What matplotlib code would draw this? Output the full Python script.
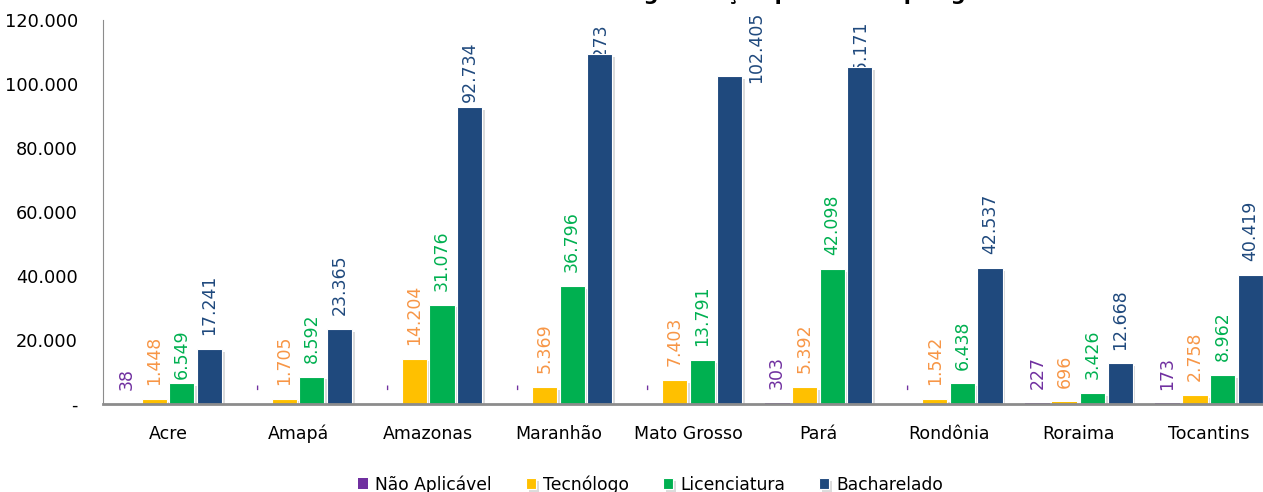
import numpy as np
import matplotlib
matplotlib.use("Agg")
import matplotlib.pyplot as plt
from matplotlib import patheffects as pe

# dados
estados = ["Acre", "Amapá", "Amazonas", "Maranhão", "Mato Grosso", "Pará",
           "Rondônia", "Roraima", "Tocantins"]
nao_aplicavel = [38, 0, 0, 0, 0, 303, 0, 227, 173]
tecnologo = [1448, 1705, 14204, 5369, 7403, 5392, 1542, 696, 2758]
licenciatura = [6549, 8592, 31076, 36796, 13791, 42098, 6438, 3426, 8962]
bacharelado = [17241, 23365, 92734, 109273, 102405, 105171, 42537, 12668, 40419]
series = ["Não Aplicável", "Tecnólogo", "Licenciatura", "Bacharelado"]
yticks = [0, 20000, 40000, 60000, 80000, 100000, 120000]

cores_barra = ["#7030A0", "#FFC000", "#00B050", "#1F497D"]
cores_rotulo = ["#7030A0", "#F79646", "#00B050", "#1F497D"]

# rotulos deslocados a mao no original (serie, estado): (dx, dy) em pontos
ajuste = {(2, 0): (0, 3), (3, 2): (0, 4), (3, 3): (0, -29), (3, 5): (0, -18), (3, 4): (19, -4.5)}

plt.rcParams['font.family'] = ['DejaVu Sans']


def fmt(v):
    # formato contabil: ponto de milhar, zero vira "-"
    if v == 0:
        return "-"
    return f"{v:,}".replace(",", ".")


fig = plt.figure(figsize=(12.63, 4.92), dpi=100)
ax = fig.add_axes([103 / 1263, 88 / 492, 1 - 103 / 1263, 384 / 492])

x = np.arange(len(estados))
passo = 0.212
larg = 0.193
sombra = [pe.SimplePatchShadow(offset=(2, -2), shadow_rgbFace="#9a9a9a", alpha=0.35), pe.Normal()]

for k, (nome, vals) in enumerate(zip(series, [nao_aplicavel, tecnologo, licenciatura, bacharelado])):
    pos = x + (k - 1.5) * passo
    barras = ax.bar(pos, vals, width=larg, color=cores_barra[k], edgecolor="white",
                    linewidth=0.8, label=nome, zorder=3)
    for b, v in zip(barras, vals):
        if v > 800:
            b.set_path_effects(sombra)
        else:
            b.set_edgecolor("none")
    for i, (p, v) in enumerate(zip(pos, vals)):
        dx, dy = ajuste.get((k, i), (0, 10))
        ax.annotate(fmt(v), (p, v), xytext=(dx, dy), textcoords="offset points",
                    rotation=90, ha="center", va="bottom", fontsize=12.5,
                    color=cores_rotulo[k], annotation_clip=False, zorder=2)

ax.set_xlim(-0.5, (1263 - 168) / 130.1)
ax.set_ylim(0, 120000)
ax.set_xticks(x)
ax.set_xticklabels(estados, fontsize=12.5, va="baseline")
ax.set_yticks(yticks)
ax.set_yticklabels([fmt(v) for v in yticks], fontsize=12.8)
ax.tick_params(axis="both", length=0)
ax.tick_params(axis="y", pad=18)
ax.tick_params(axis="x", pad=25)
for s in ["top", "right"]:
    ax.spines[s].set_visible(False)
ax.spines["left"].set_color("#8c8c8c")
ax.spines["bottom"].set_color("#8c8c8c")
ax.spines["bottom"].set_linewidth(2)
ax.spines["bottom"].set_zorder(4)

leg = fig.legend(loc="lower center", bbox_to_anchor=(0.515, -0.035), ncol=4, frameon=False,
                 fontsize=12.3, handlelength=0.6, handleheight=0.6, handletextpad=0.4,
                 columnspacing=2.0)

# titulo (cortado no topo da imagem, so aparecem as pernas das letras)
fig.text(0.527, 1.0,
         "Gráfico 11 – Total de matrículas em cursos de graduação presencial por grau acadêmico – Norte",
         ha="center", va="baseline", fontsize=15, fontweight="bold", color="black")

fig.savefig("out.png", dpi=100)
